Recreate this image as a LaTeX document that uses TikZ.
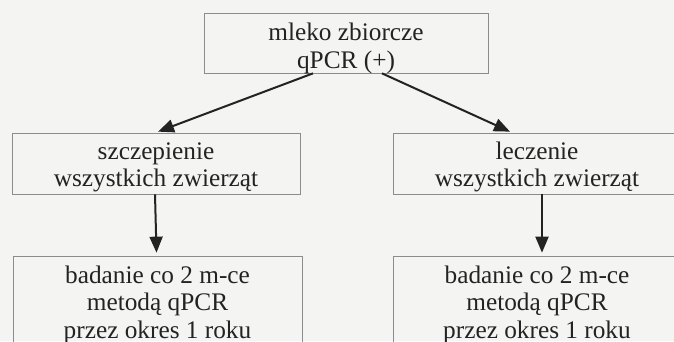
\documentclass[tikz,border=0pt]{standalone}
\usepackage{fontspec}
\setmainfont{Liberation Serif}
\usetikzlibrary{arrows.meta,calc}
\definecolor{paper}{HTML}{F4F4F2}
\definecolor{inkdark}{HTML}{232323}
\definecolor{boxgray}{HTML}{8C8C8C}
% text lowered inside its frame, as in the scan
\newcommand{\boxtext}[2]{\raisebox{-#1}[\height][\depth]{\begin{tabular}{@{}c@{}}#2\end{tabular}}}
\tikzset{
  stepbox/.style={draw=boxgray,line width=0.7pt,text=inkdark,
    font=\fontsize{25.3}{27.5}\selectfont,inner sep=0pt},
  flowarrow/.style={-{Triangle[length=16pt,width=13pt]},line width=2pt,inkdark}
}

\begin{document}
\begin{tikzpicture}[x=1pt,y=-1pt]
  \fill[paper] (0,0) rectangle (674,341);
  \useasboundingbox (0,0) rectangle (674,341);
  \clip (0,0) rectangle (674,341);
  \node[stepbox,minimum width=284pt,minimum height=60pt] (mleko) at (346,43) {\boxtext{6pt}{mleko zbiorcze\\qPCR (+)}};
  \node[stepbox,minimum width=288pt,minimum height=61pt] (szczep) at (156,163.5) {\boxtext{4pt}{szczepienie\\wszystkich zwierząt}};
  \node[stepbox,minimum width=288pt,minimum height=61pt] (leczenie) at (537,163.5) {\boxtext{4pt}{leczenie\\wszystkich zwierząt}};
  \node[stepbox,minimum width=289pt,minimum height=92pt] (badanieL) at (157.5,302) {\boxtext{3pt}{badanie co 2 m-ce\\metodą qPCR\\przez okres 1 roku}};
  \node[stepbox,minimum width=288pt,minimum height=92pt] (badanieR) at (537,302) {\boxtext{3pt}{badanie co 2 m-ce\\metodą qPCR\\przez okres 1 roku}};
  \draw[flowarrow] ([xshift=-33pt]mleko.south) -- ([xshift=2pt,yshift=1pt]szczep.north);
  \draw[flowarrow] ([xshift=36pt]mleko.south) -- ([xshift=-27pt,yshift=1pt]leczenie.north);
  \draw[flowarrow] ([xshift=-1pt]szczep.south) -- ([xshift=-1pt,yshift=3pt]badanieL.north);
  \draw[flowarrow] ([xshift=5pt]leczenie.south) -- ([xshift=5pt,yshift=3pt]badanieR.north);
\end{tikzpicture}
\end{document}
